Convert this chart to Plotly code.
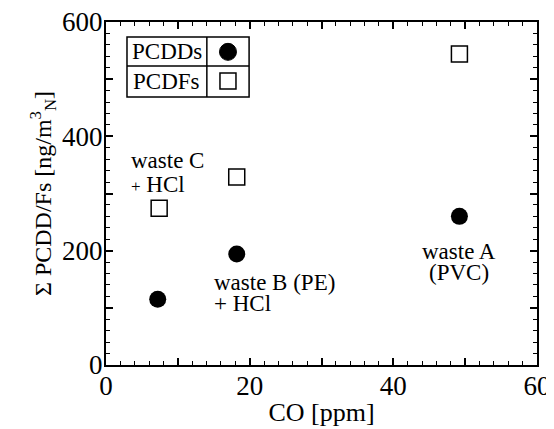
import plotly.graph_objects as go

# Data
co_pcdd = [7.2, 18.2, 49.2]
val_pcdd = [115, 194, 260]
co_pcdf = [7.4, 18.2, 49.2]
val_pcdf = [274, 329, 544]

x_tickvals = [0, 10, 20, 30, 40, 50, 60]
x_ticktext = ["0", "", "20", "", "40", "", "60"]
y_tickvals = [0, 100, 200, 300, 400, 500, 600]
y_ticktext = ["0", "", "200", "", "400", "", "600"]

FONT = "Liberation Serif"

fig = go.Figure()
fig.add_trace(go.Scatter(x=co_pcdd, y=val_pcdd, mode="markers", name="PCDDs",
                         marker=dict(symbol="circle", size=17, color="black")))
fig.add_trace(go.Scatter(x=co_pcdf, y=val_pcdf, mode="markers", name="PCDFs",
                         marker=dict(symbol="square-open", size=16, color="black",
                                     line=dict(width=1.5, color="black"))))

axis_common = dict(
    showgrid=False, zeroline=False, showline=True, linecolor="black", linewidth=2,
    mirror="allticks", ticks="inside", ticklen=7, tickwidth=1.5, tickcolor="black",
    minor=dict(ticks="inside", ticklen=4, tickwidth=1, tickcolor="black"),
    tickfont=dict(family=FONT, size=27, color="black"),
    automargin=False, ticklabeloverflow="allow",
)

fig.update_xaxes(range=[0, 60], tickmode="array", tickvals=x_tickvals, ticktext=x_ticktext,
                 minor_dtick=2, ticklabelstandoff=-4,
                 title=dict(text="CO [ppm]", font=dict(family=FONT, size=26, color="black"),
                            standoff=2),
                 **axis_common)
fig.update_yaxes(range=[0, 600], tickmode="array", tickvals=y_tickvals, ticktext=y_ticktext,
                 minor_dtick=20, ticklabelstandoff=-4,
                 title=dict(text="Σ PCDD/Fs [ng/m<sup>3</sup><sub>N</sub>]",
                            font=dict(family=FONT, size=24, color="black"), standoff=4),
                 **axis_common)

# Table-style legend
lx0, lxm, lx1 = 0.0487, 0.234, 0.332
ly0, lym, ly1 = 0.781, 0.872, 0.956
shapes = [
    dict(type="rect", xref="paper", yref="paper", x0=lx0, x1=lx1, y0=ly0, y1=ly1,
         line=dict(color="black", width=1.5)),
    dict(type="line", xref="paper", yref="paper", x0=lx0, x1=lx1, y0=lym, y1=lym,
         line=dict(color="black", width=1.5)),
    dict(type="line", xref="paper", yref="paper", x0=lxm, x1=lxm, y0=ly0, y1=ly1,
         line=dict(color="black", width=1.5)),
    dict(type="circle", xref="paper", yref="paper", xsizemode="pixel", ysizemode="pixel",
         xanchor=0.283, yanchor=0.913, x0=-8.5, x1=8.5, y0=-8.5, y1=8.5,
         fillcolor="black", line=dict(color="black", width=1)),
    dict(type="rect", xref="paper", yref="paper", xsizemode="pixel", ysizemode="pixel",
         xanchor=0.283, yanchor=0.828, x0=-8, x1=8, y0=-8, y1=8,
         fillcolor="white", line=dict(color="black", width=1.5)),
]

annots = [
    dict(text="PCDDs", xref="paper", yref="paper", x=(lx0 + lxm) / 2, y=(lym + ly1) / 2),
    dict(text="PCDFs", xref="paper", yref="paper", x=(lx0 + lxm) / 2, y=(ly0 + lym) / 2),
    dict(text="waste C", x=3.2, y=357, xanchor="left"),
    dict(text="<span style='font-size:17px'>+</span> HCl", x=3.2, y=315, xanchor="left"),
    dict(text="waste B (PE)", x=14.7, y=145, xanchor="left"),
    dict(text="+ HCl", x=14.7, y=108, xanchor="left"),
    dict(text="waste A", x=49.2, y=199),
    dict(text="(PVC)", x=49.2, y=161),
]
for a in annots:
    a.setdefault("xanchor", "center")
    a.update(showarrow=False, yanchor="middle",
             font=dict(family=FONT, size=23, color="black"))

# page body has an 8px margin, so the figure is 8px smaller and margins shifted
fig.update_layout(
    width=546, height=421,
    margin=dict(l=98, r=17, t=14, b=64),
    paper_bgcolor="white", plot_bgcolor="white",
    showlegend=False, shapes=shapes, annotations=annots,
)

fig.write_html("out.html")
